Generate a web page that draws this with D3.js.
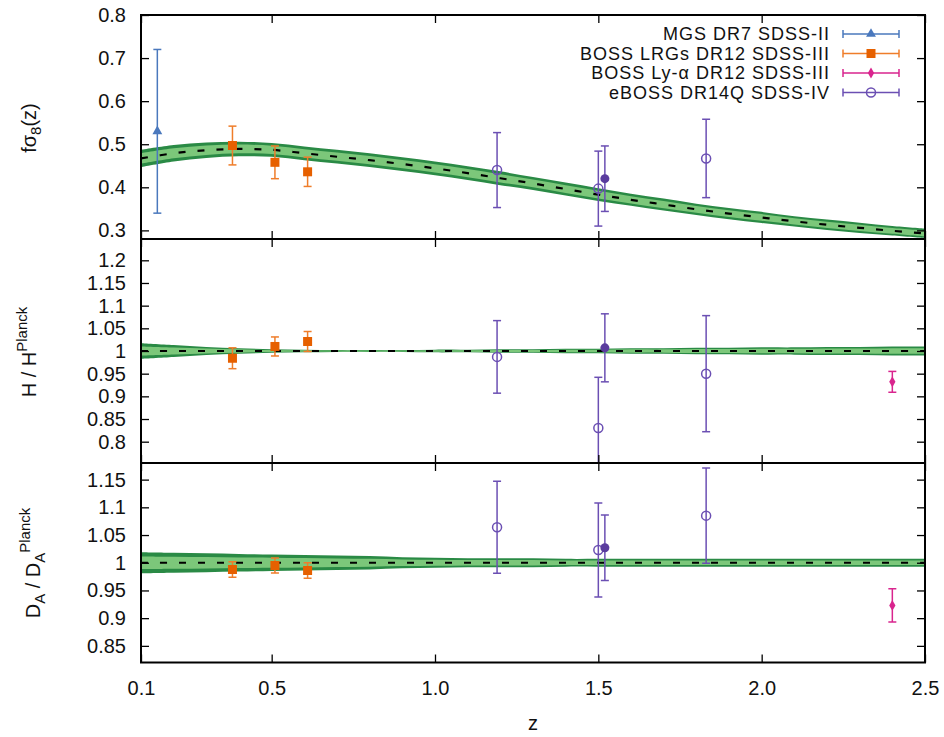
<!DOCTYPE html>
<html><head><meta charset="utf-8">
<script src="https://cdn.jsdelivr.net/npm/d3@7"></script>
<style>body{margin:0;background:#fff}svg{font-family:"Liberation Sans",Arial,Helvetica,sans-serif}</style>
</head><body><svg id="c" width="944" height="737"></svg>
<script>
// ---------- data ----------
const zGrid = [0.1,0.2,0.3,0.4,0.5,0.6,0.7,0.8,0.9,1.0,1.1,1.2,1.3,1.4,1.5,1.6,1.7,1.8,1.9,2.0,2.1,2.2,2.3,2.4,2.5];
const fs8Model = [0.467,0.479,0.486,0.489,0.487,0.479,0.471,0.463,0.454,0.444,0.433,0.421,0.409,0.396,0.383,0.371,0.360,0.349,0.339,0.330,0.321,0.313,0.306,0.299,0.293];
const fs8Band  = [0.020,0.019,0.018,0.017,0.016,0.016,0.016,0.016,0.016,0.016,0.016,0.016,0.015,0.015,0.015,0.014,0.014,0.013,0.013,0.013,0.012,0.012,0.012,0.011,0.011];
const hModel   = [1,1,1,1,1,1,1,1,1,1,1,1,1,1,1,1,1,1,1,1,1,1,1,1,1];
const hBand    = [0.017,0.013,0.009,0.006,0.004,0.003,0.002,0.002,0.002,0.003,0.003,0.004,0.004,0.005,0.005,0.006,0.006,0.007,0.007,0.008,0.008,0.009,0.009,0.010,0.010];
const daModel  = [1,1,1,1,1,1,1,1,1,1,1,1,1,1,1,1,1,1,1,1,1,1,1,1,1];
const daBand   = [0.019,0.018,0.017,0.016,0.015,0.014,0.013,0.012,0.010,0.009,0.008,0.008,0.008,0.007,0.007,0.007,0.007,0.007,0.007,0.007,0.007,0.007,0.007,0.007,0.007];

const mgsZ = [0.15];
const mgsFs8 = [0.53], mgsFs8Err = [0.19];

const lrgZ = [0.38,0.51,0.61];
const lrgFs8 = [0.497,0.458,0.436], lrgFs8Err = [0.045,0.038,0.034];
const lrgH = [0.984,1.010,1.021], lrgHErr = [0.023,0.021,0.022];
const lrgDA = [0.988,0.995,0.986], lrgDAErr = [0.014,0.0135,0.014];

const lyaZ = [2.4];
const lyaH = [0.932], lyaHErr = [0.023];
const lyaDA = [0.923], lyaDAErr = [0.030];

const qsoZ = [1.19,1.50,1.83];
const qsoFs8 = [0.440,0.397,0.467], qsoFs8Err = [0.087,0.087,0.091];
const qsoH = [0.987,0.830,0.950], qsoHErr = [0.080,0.112,0.128];
const qsoDA = [1.064,1.023,1.085], qsoDAErr = [0.083,0.085,0.086];

const qsoFZ = [1.52];
const qsoFFs8 = [0.420], qsoFFs8Err = [0.076];
const qsoFH = [1.007], qsoFHErr = [0.075];
const qsoFDA = [1.027], qsoFDAErr = [0.059];

const xTicks = [0.1,0.5,1.0,1.5,2.0,2.5];
const xTickLabels = ["0.1","0.5","1.0","1.5","2.0","2.5"];
const fs8Ticks = [0.3,0.4,0.5,0.6,0.7,0.8];
const fs8TickLabels = ["0.3","0.4","0.5","0.6","0.7","0.8"];
const hTicks = [0.8,0.85,0.9,0.95,1.0,1.05,1.1,1.15,1.2];
const hTickLabels = ["0.8","0.85","0.9","0.95","1","1.05","1.1","1.15","1.2"];
const daTicks = [0.85,0.9,0.95,1.0,1.05,1.1,1.15];
const daTickLabels = ["0.85","0.9","0.95","1","1.05","1.1","1.15"];

const legendLabels = ["MGS DR7 SDSS-II","BOSS LRGs DR12 SDSS-III","BOSS Ly-\u03b1 DR12 SDSS-III","eBOSS DR14Q SDSS-IV"];

// ---------- styles ----------
const C = {
  mgs:"#4a78bd", lrgBar:"#ef7d2a", lrg:"#e66000", lya:"#d9258e", qso:"#6b4fb3", qsoF:"#5a3c9e",
  bandDark:"#2a8a45", bandLight:"#7cc77a"
};
const FONT = 20;

const svg = d3.select("#c");
const X0 = 141, X1 = 925;
const x = d3.scaleLinear().domain([0.1,2.5]).range([X0,X1]);

const panels = [
  {id:"p0", top:15, bottom:239, domain:[0.28,0.8], ticks:fs8Ticks, labels:fs8TickLabels,
   model:fs8Model, band:fs8Band,
   sets:[
     {z:mgsZ, v:mgsFs8, e:mgsFs8Err, sym:"tri", col:C.mgs, bar:C.mgs},
     {z:lrgZ, v:lrgFs8, e:lrgFs8Err, sym:"sq", col:C.lrg, bar:C.lrgBar},
     {z:qsoZ, v:qsoFs8, e:qsoFs8Err, sym:"oc", col:C.qso, bar:C.qso},
     {z:qsoFZ, v:qsoFFs8, e:qsoFFs8Err, sym:"fc", col:C.qsoF, bar:C.qso}
   ]},
  {id:"p1", top:239, bottom:463, domain:[0.753,1.247], ticks:hTicks, labels:hTickLabels,
   model:hModel, band:hBand,
   sets:[
     {z:lrgZ, v:lrgH, e:lrgHErr, sym:"sq", col:C.lrg, bar:C.lrgBar},
     {z:lyaZ, v:lyaH, e:lyaHErr, sym:"dia", col:C.lya, bar:C.lya},
     {z:qsoZ, v:qsoH, e:qsoHErr, sym:"oc", col:C.qso, bar:C.qso},
     {z:qsoFZ, v:qsoFH, e:qsoFHErr, sym:"fc", col:C.qsoF, bar:C.qso}
   ]},
  {id:"p2", top:463, bottom:662.5, domain:[0.82,1.18], ticks:daTicks, labels:daTickLabels,
   model:daModel, band:daBand,
   sets:[
     {z:lrgZ, v:lrgDA, e:lrgDAErr, sym:"sq", col:C.lrg, bar:C.lrgBar},
     {z:lyaZ, v:lyaDA, e:lyaDAErr, sym:"dia", col:C.lya, bar:C.lya},
     {z:qsoZ, v:qsoDA, e:qsoDAErr, sym:"oc", col:C.qso, bar:C.qso},
     {z:qsoFZ, v:qsoFDA, e:qsoFDAErr, sym:"fc", col:C.qsoF, bar:C.qso}
   ]}
];

function drawMarker(g, sym, cx, cy, col){
  if(sym==="tri"){
    g.append("path").attr("d", d3.symbol().type(d3.symbolTriangle).size(42)()).attr("transform",`translate(${cx},${cy})`).attr("fill",col);
  } else if(sym==="sq"){
    g.append("path").attr("d", d3.symbol().type(d3.symbolSquare).size(81)()).attr("transform",`translate(${cx},${cy})`).attr("fill",col);
  } else if(sym==="dia"){
    g.append("path").attr("d", d3.symbol().type(d3.symbolDiamond).size(34)()).attr("transform",`translate(${cx},${cy})`).attr("fill",col);
  } else if(sym==="oc"){
    g.append("circle").attr("cx",cx).attr("cy",cy).attr("r",4.5).attr("fill","none").attr("stroke",col).attr("stroke-width",1.5);
  } else if(sym==="fc"){
    g.append("circle").attr("cx",cx).attr("cy",cy).attr("r",4.5).attr("fill",col);
  }
}
function errBar(g, cx, y1, y2, col){
  g.append("line").attr("x1",cx).attr("x2",cx).attr("y1",y1).attr("y2",y2).attr("stroke",col).attr("stroke-width",1.5);
  [y1,y2].forEach(yy=>g.append("line").attr("x1",cx-4).attr("x2",cx+4).attr("y1",yy).attr("y2",yy).attr("stroke",col).attr("stroke-width",1.5));
}

const defs = svg.append("defs");
panels.forEach(p=>{
  const y = d3.scaleLinear().domain(p.domain).range([p.bottom,p.top]);
  p.y = y;
  defs.append("clipPath").attr("id","clip-"+p.id).append("rect")
    .attr("x",X0).attr("y",p.top).attr("width",X1-X0).attr("height",p.bottom-p.top);
  const g = svg.append("g").attr("clip-path",`url(#clip-${p.id})`);
  const idx = d3.range(zGrid.length);
  const outer = d3.area().curve(d3.curveCatmullRom).x(i=>x(zGrid[i])).y0(i=>y(p.model[i]-p.band[i])).y1(i=>y(p.model[i]+p.band[i]));
  const inner = d3.area().curve(d3.curveCatmullRom).x(i=>x(zGrid[i])).y0(i=>y(p.model[i]-0.6*p.band[i])).y1(i=>y(p.model[i]+0.6*p.band[i]));
  g.append("path").attr("d",outer(idx)).attr("fill",C.bandDark);
  g.append("path").attr("d",inner(idx)).attr("fill",C.bandLight);
  const line = d3.line().curve(d3.curveCatmullRom).x(i=>x(zGrid[i])).y(i=>y(p.model[i]));
  g.append("path").attr("d",line(idx)).attr("fill","none").attr("stroke","#000").attr("stroke-width",2.2).attr("stroke-dasharray","7,12");

  p.sets.forEach(s=>{
    s.z.forEach((z,i)=>{
      errBar(g, x(z), y(s.v[i]+s.e[i]), y(s.v[i]-s.e[i]), s.bar);
    });
    s.z.forEach((z,i)=>drawMarker(g, s.sym, x(z), y(s.v[i]), s.col));
  });

  // axes (inward ticks)
  const left = d3.axisLeft(y).tickValues(p.ticks).tickSize(-8).tickPadding(15).tickFormat((d,i)=>p.labels[i]);
  const la = svg.append("g").attr("transform",`translate(${X0},0)`).call(left);
  la.select(".domain").remove();
  la.selectAll("text").attr("font-size",FONT).attr("fill","#111").attr("font-family","Liberation Sans, Arial, sans-serif");
  la.selectAll("line").attr("stroke","#000").attr("stroke-width",1.3);
  const right = d3.axisRight(y).tickValues(p.ticks).tickSize(-8).tickFormat("");
  const ra = svg.append("g").attr("transform",`translate(${X1},0)`).call(right);
  ra.select(".domain").remove();
  ra.selectAll("line").attr("stroke","#000").attr("stroke-width",1.3);
  const top = d3.axisTop(x).tickValues(xTicks).tickSize(-8).tickFormat("");
  const ta = svg.append("g").attr("transform",`translate(0,${p.top})`).call(top);
  ta.select(".domain").remove();
  ta.selectAll("line").attr("stroke","#000").attr("stroke-width",1.3);
  const bot = d3.axisBottom(x).tickValues(xTicks).tickSize(-8).tickPadding(18)
     .tickFormat((d,i)=> p.id==="p2" ? xTickLabels[i] : "");
  const ba = svg.append("g").attr("transform",`translate(0,${p.bottom})`).call(bot);
  ba.select(".domain").remove();
  ba.selectAll("line").attr("stroke","#000").attr("stroke-width",1.3);
  ba.selectAll("text").attr("font-size",FONT).attr("fill","#111").attr("font-family","Liberation Sans, Arial, sans-serif");

  svg.append("rect").attr("x",X0).attr("y",p.top).attr("width",X1-X0).attr("height",p.bottom-p.top)
    .attr("fill","none").attr("stroke","#000").attr("stroke-width",2);
});

// axis titles
function ytitle(cx, cy){
  return svg.append("text").attr("transform",`translate(${cx},${cy}) rotate(-90)`).attr("text-anchor","middle")
    .attr("font-size",FONT).attr("fill","#111");
}
const t0 = ytitle(36, 128);
t0.append("tspan").text("f\u03c3");
t0.append("tspan").text("8").attr("font-size",15).attr("dy",5);
t0.append("tspan").text("(z)").attr("dy",-5);

const t1 = ytitle(36, 352);
t1.append("tspan").text("H / H");
t1.append("tspan").text("Planck").attr("font-size",15).attr("dy",-9);

const t2 = ytitle(40, 563);
t2.append("tspan").text("D");
t2.append("tspan").text("A").attr("font-size",15).attr("dy",5);
t2.append("tspan").text(" / D").attr("dy",-5);
t2.append("tspan").text("A").attr("font-size",15).attr("dy",5);
t2.append("tspan").text("Planck").attr("font-size",15).attr("dy",-15);

svg.append("text").attr("x",533).attr("y",730).attr("text-anchor","middle").attr("font-size",FONT).attr("fill","#111").text("z");

// legend
const legRows = [34,53.5,73,92.5];
const legSyms = [
  {sym:"tri", col:C.mgs, bar:C.mgs},
  {sym:"sq", col:C.lrg, bar:C.lrgBar},
  {sym:"dia", col:C.lya, bar:C.lya},
  {sym:"oc", col:C.qso, bar:C.qso}
];
const lg = svg.append("g");
legendLabels.forEach((t,i)=>{
  const yy = legRows[i];
  lg.append("text").attr("x",830).attr("y",yy).attr("dy","0.35em").attr("text-anchor","end")
    .attr("font-size",18).attr("letter-spacing","1px").attr("fill","#111").text(t);
  lg.append("line").attr("x1",843).attr("x2",899).attr("y1",yy).attr("y2",yy).attr("stroke",legSyms[i].bar).attr("stroke-width",1.5);
  [843,899].forEach(xx=>lg.append("line").attr("x1",xx).attr("x2",xx).attr("y1",yy-4).attr("y2",yy+4).attr("stroke",legSyms[i].bar).attr("stroke-width",1.5));
  drawMarker(lg, legSyms[i].sym, 871, yy, legSyms[i].col);
});
</script></body></html>
